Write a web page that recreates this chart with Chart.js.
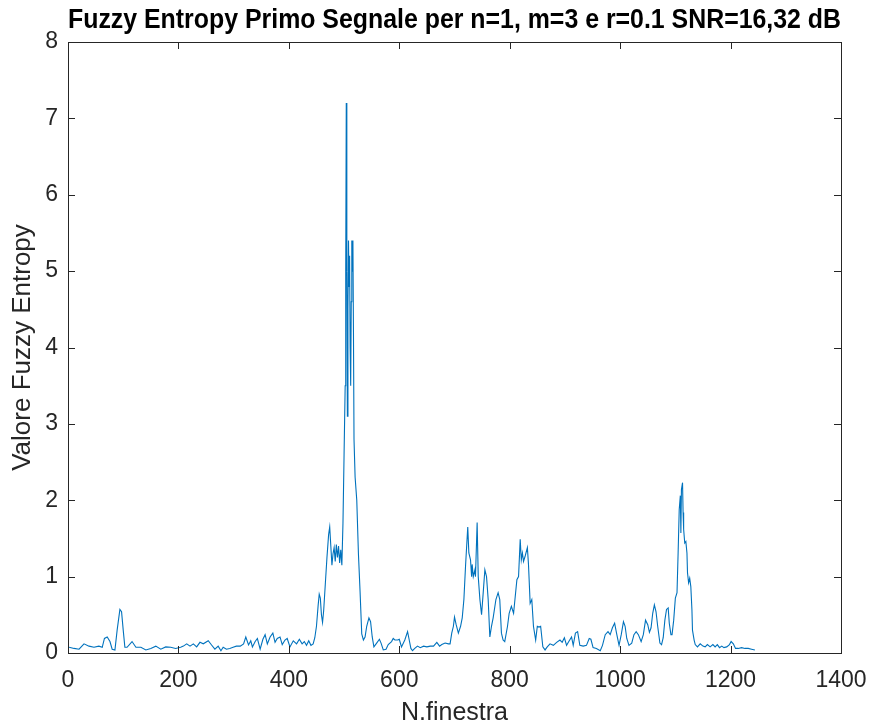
<!DOCTYPE html>
<html>
<head>
<meta charset="utf-8">
<script src="https://cdn.jsdelivr.net/npm/chart.js@4.4.1/dist/chart.umd.min.js"></script>
<style>
  html, body { margin: 0; padding: 0; background: #fff; }
  canvas { display: block; }
</style>
</head>
<body>
<canvas id="chart" width="872" height="726"></canvas>
<script>
// window index (x) and fuzzy entropy value (y)
const finestra = [
  2, 11, 20, 29, 38, 47, 56, 62, 66, 71, 76, 80, 85, 89, 94, 97, 100, 103, 107, 116,
  123, 132, 141, 150, 159, 168, 177, 186, 195, 204, 209, 215, 221, 227, 233, 239, 245, 254, 260, 266,
  272, 277, 281, 287, 293, 299, 305, 312, 318, 322, 327, 331, 334, 339, 343, 348, 353, 357, 361, 366,
  371, 375, 379, 384, 388, 393, 397, 402, 408, 414, 419, 424, 428, 432, 436, 440, 444, 447, 450, 453,
  455, 457, 459, 461, 463, 466, 469, 472, 474, 476, 478, 480, 482, 484, 486, 488, 490, 492, 494, 496,
  498, 500, 502, 503, 504, 505, 506, 507, 508, 509, 510, 511, 512, 513, 514, 515, 516, 517, 518, 520,
  523, 526, 529, 532, 535, 538, 541, 545, 548, 551, 554, 559, 564, 567, 571, 576, 580, 586, 589, 592,
  597, 600, 604, 610, 615, 618, 621, 624, 628, 633, 638, 644, 650, 656, 662, 668, 673, 677, 683, 689,
  692, 695, 698, 700, 703, 707, 711, 714, 717, 720, 724, 726, 729, 731, 732, 734, 737, 738, 741, 743,
  746, 749, 752, 755, 758, 761, 764, 767, 770, 775, 779, 782, 785, 788, 791, 796, 799, 803, 807, 810,
  813, 816, 819, 821, 823, 825, 828, 832, 834, 837, 840, 843, 847, 850, 853, 856, 860, 864, 868, 873,
  879, 885, 891, 895, 899, 903, 907, 912, 915, 919, 923, 927, 933, 939, 944, 947, 951, 957, 964, 968,
  973, 978, 982, 986, 990, 994, 998, 1002, 1006, 1009, 1012, 1016, 1021, 1025, 1029, 1033, 1038, 1042, 1046, 1050,
  1053, 1056, 1059, 1062, 1065, 1068, 1072, 1075, 1078, 1081, 1084, 1087, 1089, 1092, 1094, 1097, 1100, 1103, 1105, 1107,
  1109, 1110, 1111, 1113, 1114, 1115, 1117, 1119, 1121, 1122, 1124, 1126, 1128, 1130, 1131, 1134, 1136, 1140, 1145, 1150,
  1154, 1158, 1163, 1168, 1172, 1176, 1180, 1184, 1188, 1193, 1198, 1201, 1205, 1209, 1214, 1220, 1226, 1232, 1238, 1244
];

const fuzzyEn = [
  0.075, 0.06, 0.05, 0.12, 0.09, 0.075, 0.09, 0.075, 0.19, 0.21, 0.15, 0.05, 0.04, 0.30, 0.57, 0.54, 0.30, 0.075, 0.075, 0.15,
  0.075, 0.075, 0.04, 0.06, 0.09, 0.05, 0.08, 0.075, 0.06, 0.075, 0.09, 0.12, 0.09, 0.12, 0.08, 0.14, 0.12, 0.16, 0.105, 0.05,
  0.09, 0.03, 0.075, 0.05, 0.06, 0.075, 0.09, 0.09, 0.12, 0.21, 0.105, 0.16, 0.08, 0.15, 0.19, 0.05, 0.18, 0.24, 0.12, 0.21,
  0.26, 0.14, 0.19, 0.21, 0.11, 0.17, 0.19, 0.08, 0.16, 0.12, 0.18, 0.12, 0.15, 0.10, 0.16, 0.10, 0.12, 0.2, 0.35, 0.62,
  0.77, 0.72, 0.5, 0.4, 0.55, 0.9, 1.25, 1.55, 1.65, 1.4, 1.15, 1.3, 1.38, 1.2, 1.42, 1.25, 1.4, 1.18, 1.35, 1.15,
  1.7, 2.6, 3.5, 5.0, 7.2, 5.0, 3.1, 4.5, 5.4, 4.8, 5.2, 4.0, 3.5, 4.6, 5.4, 5.0, 5.4, 4.2, 2.8, 2.3,
  2.0, 1.3, 0.8, 0.25, 0.17, 0.21, 0.35, 0.46, 0.41, 0.21, 0.08, 0.13, 0.18, 0.13, 0.04, 0.05, 0.11, 0.15, 0.19, 0.17,
  0.17, 0.18, 0.08, 0.17, 0.28, 0.17, 0.06, 0.03, 0.06, 0.09, 0.07, 0.09, 0.08, 0.09, 0.09, 0.14, 0.09, 0.11, 0.13, 0.12,
  0.12, 0.26, 0.35, 0.47, 0.37, 0.26, 0.35, 0.46, 0.70, 1.14, 1.65, 1.31, 1.22, 1.0, 1.16, 1.0, 1.09, 1.0, 1.71, 1.0,
  0.70, 0.5, 0.79, 1.09, 1.0, 0.70, 0.21, 0.35, 0.46, 0.70, 0.79, 0.70, 0.26, 0.17, 0.15, 0.35, 0.52, 0.61, 0.52, 0.74,
  0.96, 1.0, 1.49, 1.22, 1.31, 1.2, 1.27, 1.38, 1.16, 0.65, 0.70, 0.35, 0.17, 0.35, 0.34, 0.35, 0.08, 0.04, 0.08, 0.12,
  0.1, 0.14, 0.17, 0.14, 0.2, 0.10, 0.15, 0.21, 0.10, 0.26, 0.28, 0.10, 0.09, 0.10, 0.19, 0.18, 0.07, 0.06, 0.03, 0.10,
  0.24, 0.28, 0.24, 0.33, 0.39, 0.24, 0.10, 0.24, 0.41, 0.35, 0.19, 0.10, 0.13, 0.24, 0.28, 0.24, 0.15, 0.24, 0.43, 0.37,
  0.27, 0.33, 0.52, 0.63, 0.54, 0.35, 0.13, 0.11, 0.2, 0.43, 0.57, 0.59, 0.39, 0.24, 0.24, 0.43, 0.72, 0.79, 1.31, 1.88,
  2.06, 1.57, 2.14, 2.23, 1.84, 1.62, 1.44, 1.46, 1.31, 1.05, 0.92, 0.98, 0.87, 0.57, 0.3, 0.17, 0.11, 0.08, 0.12, 0.09,
  0.08, 0.11, 0.08, 0.11, 0.08, 0.11, 0.07, 0.09, 0.07, 0.08, 0.11, 0.15, 0.12, 0.06, 0.06, 0.07, 0.06, 0.06, 0.05, 0.04
];

const titleText = 'Fuzzy Entropy Primo Segnale per n=1, m=3 e r=0.1 SNR=16,32 dB';
const xLabel = 'N.finestra';
const yLabel = 'Valore Fuzzy Entropy';

const AXIS = '#262626';
const LINE = '#0072BD';
const FONT = "'Liberation Sans', Arial, sans-serif";

// matlab style box with ticks pointing inward on all four sides
const boxTicks = {
  id: 'boxTicks',
  afterDraw(chart) {
    const { ctx, chartArea: a, scales: { x, y } } = chart;
    const len = 7;
    ctx.save();
    ctx.strokeStyle = AXIS;
    ctx.lineWidth = 1;
    ctx.strokeRect(Math.round(a.left) + 0.5, Math.round(a.top) + 0.5,
      Math.round(a.right - a.left), Math.round(a.bottom - a.top));
    ctx.beginPath();
    x.ticks.forEach((t) => {
      const px = Math.round(x.getPixelForValue(t.value)) + 0.5;
      ctx.moveTo(px, a.bottom); ctx.lineTo(px, a.bottom - len);
      ctx.moveTo(px, a.top); ctx.lineTo(px, a.top + len);
    });
    y.ticks.forEach((t) => {
      const py = Math.round(y.getPixelForValue(t.value)) + 0.5;
      ctx.moveTo(a.left, py); ctx.lineTo(a.left + len, py);
      ctx.moveTo(a.right, py); ctx.lineTo(a.right - len, py);
    });
    ctx.stroke();
    ctx.restore();
  }
};

new Chart(document.getElementById('chart'), {
  type: 'line',
  data: {
    datasets: [{
      data: finestra.map((n, i) => ({ x: n, y: fuzzyEn[i] })),
      borderColor: LINE,
      borderWidth: 1.1,
      pointRadius: 0,
      tension: 0,
      fill: false
    }]
  },
  options: {
    responsive: false,
    devicePixelRatio: 1,
    animation: false,
    layout: { padding: { left: 0, right: 31, top: 0, bottom: 0 } },
    scales: {
      x: {
        type: 'linear',
        min: 0,
        max: 1400,
        ticks: {
          stepSize: 200, color: AXIS, padding: 14, maxRotation: 0,
          font: { family: FONT, size: 23 },
          callback: (v) => String(v)
        },
        grid: { display: false, drawTicks: false },
        border: { display: false },
        title: { display: true, text: xLabel, color: AXIS, font: { family: FONT, size: 25, lineHeight: 1 }, padding: { top: 0, bottom: 0 } },
        afterFit: (s) => { s.height = 73; s.paddingLeft = 0; s.paddingRight = 0; }
      },
      y: {
        min: 0,
        max: 8,
        ticks: {
          stepSize: 1, color: AXIS, padding: 10,
          font: { family: FONT, size: 23 },
          callback: (v) => String(v)
        },
        grid: { display: false, drawTicks: false },
        border: { display: false },
        title: { display: true, text: yLabel, color: AXIS, font: { family: FONT, size: 26, lineHeight: 1 }, padding: { top: 10, bottom: 0 } },
        afterFit: (s) => { s.width = 68; s.paddingTop = 0; s.paddingBottom = 0; }
      }
    },
    plugins: {
      legend: { display: false },
      tooltip: { enabled: false },
      title: {
        display: true,
        text: titleText,
        fullSize: false,
        color: '#000',
        font: { family: FONT, size: 27, weight: 'bold', lineHeight: 1.2 },
        padding: { top: 4, bottom: 5.6 }
      }
    }
  },
  plugins: [boxTicks]
});
</script>
</body>
</html>
